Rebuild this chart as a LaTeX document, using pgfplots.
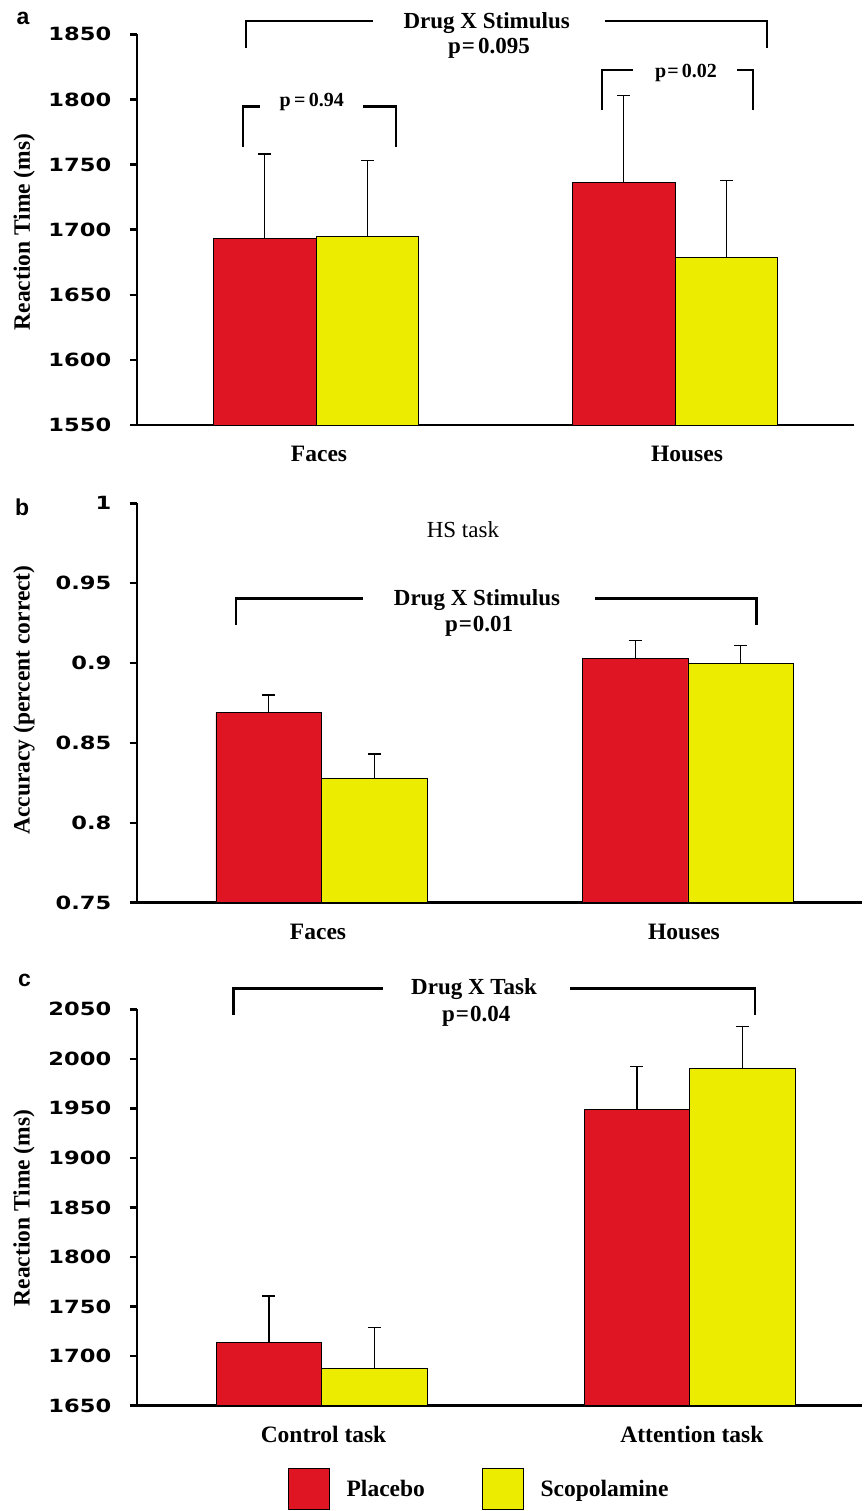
\documentclass[border=0pt]{standalone}
\usepackage{fontspec}
\setmainfont{Liberation Serif}
\newfontfamily\tickfont[FakeStretch=1.24]{DejaVu Sans}
\newfontfamily\letterfont{Liberation Sans}
\usepackage{pgfplots}
\pgfplotsset{compat=1.18}
\definecolor{barred}{RGB}{224,21,36}
\definecolor{baryellow}{RGB}{236,236,0}

\pgfplotsset{
  panel/.style={
    scale only axis, anchor=south west,
    axis lines*=left,
    axis line style={line width=2.7pt, black},
    tick align=outside,
    major tick length=7pt,
    ytick style={line width=2.5pt, black},
    xtick style={draw=none},
    yticklabel style={font=\tickfont\bfseries\fontsize{18.2}{21}\selectfont, inner sep=0pt, xshift=-18.5pt},
    xticklabel style={font=\bfseries\fontsize{23.5}{27}\selectfont, anchor=base, inner sep=0pt, yshift=-29.5pt},
    clip=false,
    ybar=0pt,
  },
  ebar/.style={
    error bars/.cd, y dir=plus, y explicit,
    error bar style={line width=1.3pt, black},
    error mark options={rotate=90, line width=1.3pt, mark size=6.5pt, black},
  },
}
\tikzset{
  bk/.style={line width=2.8pt, line cap=butt, line join=miter},
  lab/.style={font=\bfseries\fontsize{23}{27}\selectfont, anchor=base, inner sep=0pt},
  plab/.style={font=\bfseries\fontsize{20}{24}\selectfont, anchor=base, inner sep=0pt},
}

\begin{document}
\begin{tikzpicture}[x=1pt,y=1pt]
\useasboundingbox (0,0) rectangle (863,-1511);

% ---------------- panel a ----------------
\begin{axis}[panel,
  at={(137pt,-425pt)}, width=717pt, height=390.7pt,
  xmin=-0.4986, xmax=1.4986, ymin=1550, ymax=1850,
  ytick={1550,1600,1650,1700,1750,1800,1850},
  yticklabels={1550,1600,1650,1700,1750,1800,1850},
  xtick={0.0084,1.0334}, xticklabels={Faces,Houses},
  bar width=0.2855,
  ylabel={Reaction Time (ms)},
  ylabel style={at={(axis description cs:-0.1574,0.494)}, anchor=center, font=\bfseries\fontsize{23.5}{27}\selectfont},
]
\addplot[fill=barred, draw=black, line width=0.8pt, bar shift=-0.14275, forget plot, ebar]
  coordinates {(0,1693) +- (0,65) (1,1736) +- (0,67)};
\addplot[fill=baryellow, draw=black, line width=0.8pt, bar shift=0.14275, forget plot, ebar]
  coordinates {(0,1695) +- (0,58) (1,1679) +- (0,59)};
\draw[bk] (axis cs:-0.195,1839.7) |- (axis cs:0.1588,1860.2);
\draw[bk] (axis cs:0.805,1860.2) -| (axis cs:1.2563,1839.5);
\draw[bk] (axis cs:-0.2033,1763.7) |- (axis cs:-0.156,1794.4);
\draw[bk] (axis cs:0.1309,1794.4) -| (axis cs:0.2228,1763.7);
\draw[bk] (axis cs:0.7967,1791.9) |- (axis cs:0.883,1822.6);
\draw[bk] (axis cs:1.1727,1822.6) -| (axis cs:1.2173,1791.9);
\node[lab] at (axis cs:0.4755,1854.8) {Drug X Stimulus};
\node[lab] at (axis cs:0.482,1835.6) {p{\kern1pt}={\kern3pt}0.095};
\node[plab] at (axis cs:-0.012,1794.2) {p\,=\,0.94};
\node[plab] at (axis cs:1.0306,1816.5) {p{\kern1pt}={\kern3pt}0.02};
\end{axis}

% ---------------- panel b ----------------
\begin{axis}[panel,
  at={(137pt,-902.7pt)}, width=725pt, height=399.4pt,
  xmin=-0.5034, xmax=1.4748, ymin=0.75, ymax=1,
  ytick={0.75,0.8,0.85,0.9,0.95,1},
  yticklabels={0.75,0.8,0.85,0.9,0.95,1},
  xtick={-0.0095,0.989}, xticklabels={Faces,Houses},
  bar width=0.288,
  ylabel={Accuracy (percent correct)},
  ylabel style={at={(axis description cs:-0.1559,0.5075)}, anchor=center, font=\bfseries\fontsize{23.5}{27}\selectfont},
]
\addplot[fill=barred, draw=black, line width=0.8pt, bar shift=-0.144, forget plot, ebar]
  coordinates {(0,0.869) +- (0,0.011) (1,0.903) +- (0,0.011)};
\addplot[fill=baryellow, draw=black, line width=0.8pt, bar shift=0.144, forget plot, ebar]
  coordinates {(0,0.828) +- (0,0.015) (1,0.900) +- (0,0.011)};
\draw[bk] (axis cs:-0.2333,0.9238) |- (axis cs:0.114,0.9405);
\draw[bk] (axis cs:0.7462,0.9405) -| (axis cs:1.1874,0.9238);
\node[font=\fontsize{23}{27}\selectfont, anchor=base, inner sep=0pt] at (axis cs:0.386,0.9783) {HS task};
\node[lab] at (axis cs:0.4243,0.9363) {Drug X Stimulus};
\node[lab] at (axis cs:0.43,0.9196) {p{\kern1pt}={\kern1pt}0.01};
\end{axis}

% ---------------- panel c ----------------
\begin{axis}[panel,
  at={(137pt,-1405.5pt)}, width=725pt, height=396.2pt,
  xmin=-0.5019, xmax=1.4682, ymin=1650, ymax=2050,
  ytick={1650,1700,1750,1800,1850,1900,1950,2000,2050},
  yticklabels={1650,1700,1750,1800,1850,1900,1950,2000,2050},
  xtick={0.005,1.006}, xticklabels={Control task,Attention task},
  bar width=0.287,
  ylabel={Reaction Time (ms)},
  ylabel style={at={(axis description cs:-0.1559,0.4985)}, anchor=center, font=\bfseries\fontsize{23.5}{27}\selectfont},
  legend columns=2,
  legend style={draw=none, fill=none, inner sep=0pt, outer sep=0pt,
    at={(axis description cs:0.2083,-0.2095)}, anchor=west,
    nodes={inner sep=0pt, text depth=0pt, font=\bfseries\fontsize{23.5}{27}\selectfont},
    /tikz/every odd column/.append style={column sep=16.6pt},
    /tikz/every even column/.append style={column sep=57pt}},
]
\addplot[fill=barred, draw=black, line width=0.8pt, bar shift=-0.1435, forget plot, ebar]
  coordinates {(0,1714) +- (0,46.5) (1,1949) +- (0,43.5)};
\addplot[fill=baryellow, draw=black, line width=0.8pt, bar shift=0.1435, forget plot, ebar]
  coordinates {(0,1687) +- (0,41.5) (1,1990) +- (0,42.5)};
\addlegendimage{legend image code/.code={\draw[fill=barred, draw=black, line width=1pt] (0pt,-20.5pt) rectangle (41pt,20.5pt);}}
\addlegendentry{Placebo}
\addlegendimage{legend image code/.code={\draw[fill=baryellow, draw=black, line width=1pt] (0pt,-20.5pt) rectangle (41pt,20.5pt);}}
\addlegendentry{Scopolamine}
\draw[bk] (axis cs:-0.2402,2044.4) |- (axis cs:0.1674,2071.4);
\draw[bk] (axis cs:0.6747,2071.4) -| (axis cs:1.1774,2044.4);
\node[lab] at (axis cs:0.414,2064.6) {Drug X Task};
\node[lab] at (axis cs:0.42,2037.7) {p{\kern1pt}={\kern1pt}0.04};
\end{axis}

\node[font=\letterfont\bfseries\fontsize{23}{27}\selectfont, anchor=base west, inner sep=0pt] at (16.5,-25) {a};
\node[font=\letterfont\bfseries\fontsize{23}{27}\selectfont, anchor=base west, inner sep=0pt] at (15,-515) {b};
\node[font=\letterfont\bfseries\fontsize{23}{27}\selectfont, anchor=base west, inner sep=0pt] at (18,-986.7) {c};
\end{tikzpicture}
\end{document}
